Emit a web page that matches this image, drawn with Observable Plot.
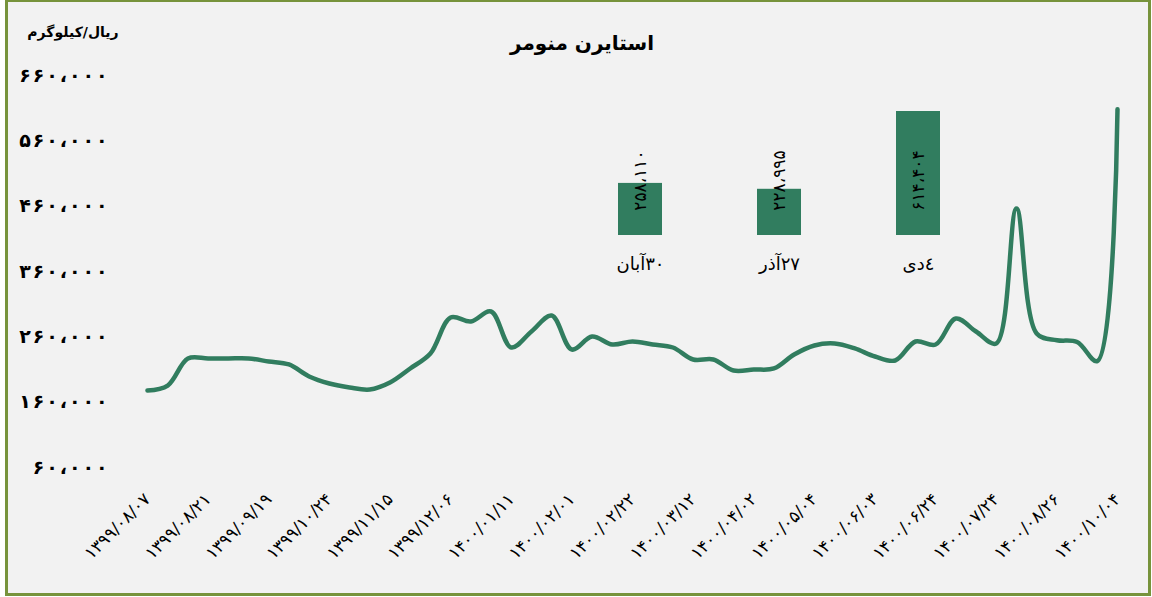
<!DOCTYPE html>
<html>
<head>
<meta charset="utf-8">
<script src="https://cdn.jsdelivr.net/npm/d3@7"></script>
<script src="https://cdn.jsdelivr.net/npm/@observablehq/plot@0.6"></script>
<style>
  html, body { margin: 0; padding: 0; background: #ffffff; }
  #chart { position: relative; width: 1152px; height: 597px; overflow: hidden; }
  #frame { position: absolute; left: 5px; top: -1px; width: 1146px; height: 597px; box-sizing: border-box;
           border: 3px solid #77933c; background: #f2f2f2; }
  #chart svg { position: absolute; left: 0; top: 0; overflow: visible; }
  #chart svg [aria-label="x-axis tick label"] text { letter-spacing: 2.5px; }
  .title { position: absolute; left: 432px; width: 300px; top: 27px; text-align: center; direction: rtl;
           font: bold 20px "DejaVu Sans", sans-serif; color: #000; line-height: 32px; }
  .unit { position: absolute; left: 17px; width: 112px; top: 22px; text-align: center; direction: rtl;
          font: bold 14px "DejaVu Sans", sans-serif; color: #000; line-height: 20px; }
</style>
</head>
<body>
<div id="chart">
  <div id="frame"></div>
  <div class="title">استایرن منومر</div>
  <div class="unit">ریال/کیلوگرم</div>
</div>
<script>
// ---- data ----
const tickLabels = [
  "۱۳۹۹/۰۸/۰۷", "۱۳۹۹/۰۸/۲۱", "۱۳۹۹/۰۹/۱۹", "۱۳۹۹/۱۰/۲۴", "۱۳۹۹/۱۱/۱۵", "۱۳۹۹/۱۲/۰۶",
  "۱۴۰۰/۰۱/۱۱", "۱۴۰۰/۰۲/۰۱", "۱۴۰۰/۰۲/۲۲", "۱۴۰۰/۰۳/۱۲", "۱۴۰۰/۰۴/۰۲", "۱۴۰۰/۰۵/۰۴",
  "۱۴۰۰/۰۶/۰۳", "۱۴۰۰/۰۶/۲۴", "۱۴۰۰/۰۷/۲۴", "۱۴۰۰/۰۸/۲۶", "۱۴۰۰/۱۰/۰۴"
];
const pointsPerLabel = 3;
const prices = [
  184000, 191600, 233000, 233000, 233000, 233000, 228400, 223800, 205400, 194700,
  188600, 185500, 196200, 217700, 240600, 295700, 289600, 304900, 249800, 274300,
  298800, 246700, 266600, 254400, 259000, 254400, 249800, 231400, 231400, 214600,
  216100, 217700, 239100, 252900, 255900, 248300, 236000, 229900, 259000, 254400,
  294200, 274300, 255900, 462600, 271200, 261000, 258110, 228995, 614404
];
const yTicks = [60000, 160000, 260000, 360000, 460000, 560000, 660000];
const barCategories = ["۳۰آبان", "۲۷آذر", "٤دی"];
const barValues = [258110, 228995, 614404];
const barLabelLevel = 272000;

// ---- helpers ----
const faDigits = "۰۱۲۳۴۵۶۷۸۹";
const fa = n => d3.format(",")(n).replace(/\d/g, c => faDigits[+c]).replace(/,/g, "،");
const faAxis = n => fa(n).split("").join("\u200A");
const green = "#317d5f";

const main = Plot.plot({
  width: 1152, height: 597,
  marginLeft: 147, marginRight: 35, marginTop: 79, marginBottom: 126,
  style: { background: "transparent", fontFamily: "DejaVu Sans", color: "#000" },
  x: { domain: [0, (tickLabels.length - 1) * pointsPerLabel], axis: null },
  y: { domain: [60000, 660000], axis: null },
  marks: [
    Plot.axisY(yTicks, { tickSize: 0, tickPadding: 40, tickFormat: faAxis, fontSize: 19, fontWeight: "bold", dy: -4 }),
    Plot.axisX(tickLabels.map((d, i) => i * pointsPerLabel), {
      tickSize: 0, tickRotate: -45, tickPadding: 25, fontSize: 17,
      tickFormat: d => tickLabels[d / pointsPerLabel]
    }),
    Plot.line(prices, { x: (d, i) => i, y: d => d, stroke: green, strokeWidth: 4.5, curve: "catmull-rom" })
  ]
});

const inset = Plot.plot({
  width: 1152, height: 300,
  marginLeft: 569, marginRight: 164, marginTop: 111, marginBottom: 65,
  style: { background: "transparent", fontFamily: "DejaVu Sans", color: "#000" },
  x: { domain: barCategories, paddingInner: 0.6846, paddingOuter: 0.3423, axis: null },
  y: { domain: [0, 614404], axis: null },
  marks: [
    Plot.barY(barValues, { x: (d, i) => barCategories[i], y: d => d, fill: green }),
    Plot.text(barValues, { x: (d, i) => barCategories[i], y: () => barLabelLevel, text: fa, rotate: -90, fontSize: 17, fill: "#000" }),
    Plot.axisX({ tickSize: 0, tickPadding: 22, fontSize: 18, tickFormat: d => "\u200F" + d })
  ]
});

document.getElementById("chart").append(main, inset);
</script>
</body>
</html>
